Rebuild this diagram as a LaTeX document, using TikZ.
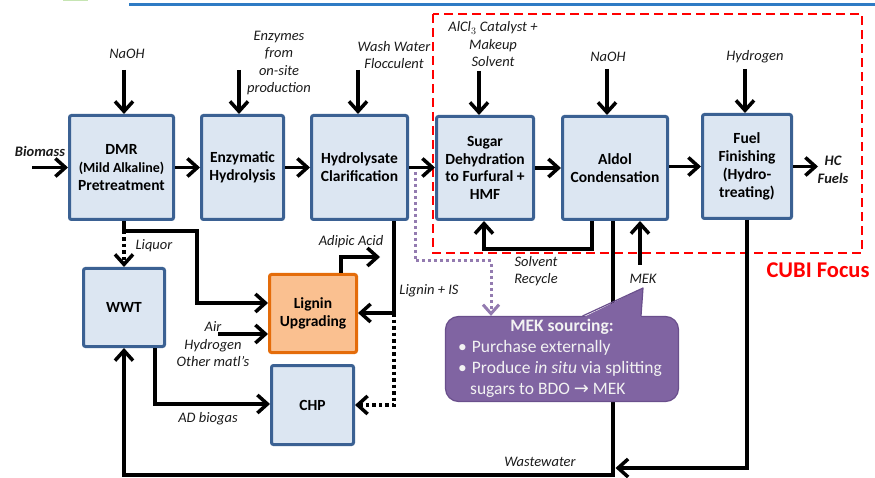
\documentclass[tikz,border=0pt]{standalone}
\usepackage{fontspec}
\setmainfont{Carlito}
\newfontfamily\symfont{DejaVu Sans}
\usetikzlibrary{arrows.meta,calc}

\definecolor{boxfill}{HTML}{DCE6F2}
\definecolor{boxdraw}{HTML}{3B6193}
\definecolor{orgfill}{HTML}{FAC090}
\definecolor{orgdraw}{HTML}{E46C0A}
\definecolor{mekfill}{HTML}{8064A2}
\definecolor{mekdraw}{HTML}{6A4F8C}
\definecolor{mektext}{HTML}{F2F2F2}
\definecolor{cubired}{HTML}{FF0000}
\definecolor{topblue}{HTML}{2E7BC4}
\definecolor{topgreen}{HTML}{C6E5B3}
\definecolor{labtext}{HTML}{1A1A1A}

\tikzset{
  box/.style={draw=boxdraw, fill=boxfill, line width=3pt, rounded corners=2pt,
    align=center, inner sep=1pt, font=\fontsize{15.5}{17.8}\selectfont\bfseries},
  orgbox/.style={box, draw=orgdraw, fill=orgfill},
  lab/.style={align=center, inner sep=0pt, text=labtext,
    font=\fontsize{14.5}{17.6}\selectfont\itshape},
  blab/.style={lab, font=\fontsize{14.5}{18}\selectfont\bfseries\itshape},
  flow/.style={line width=3.5pt, draw=black},
  arr/.style={flow, -{Straight Barb[length=10pt,width=18pt]}},
  dotarr/.style={arr, dash pattern=on 3.5pt off 3pt},
  pdot/.style={line width=3pt, draw=mekfill!85, dash pattern=on 3pt off 3pt,
    -{Straight Barb[length=9pt,width=16pt]}},
  mekt/.style={inner sep=0pt, text=mektext, font=\fontsize{17.5}{21}\selectfont},
}

\begin{document}
\begin{tikzpicture}[x=1pt,y=-1pt]
\useasboundingbox (0,0) rectangle (875,478);

% header rule
\fill[topgreen] (63,0) rectangle (88,1.5);
\draw[topblue, line width=3pt] (129,5) -- (875,5);

% focus area
\draw[cubired, line width=2.5pt, dash pattern=on 9pt off 5pt] (433,14) rectangle (862,253);
\node[text=cubired, inner sep=0pt, font=\fontsize{22.5}{26}\selectfont\bfseries] (cubi) at (818,270) {CUBI Focus};

% process blocks
\node[box, minimum width=104, minimum height=104] (dmr) at (121.5,167.5)
  {DMR\\{\fontsize{14}{17}\selectfont (Mild Alkaline)}\\Pretreatment};
\node[box, minimum width=82, minimum height=104] (enz) at (242.5,167.5) {Enzymatic\\Hydrolysis};
\node[box, minimum width=96, minimum height=104] (hyd) at (359.5,167.5) {Hydrolysate\\Clarification};
\node[box, minimum width=97, minimum height=103] (sug) at (485,168) {Sugar\\Dehydration\\to Furfural +\\HMF};
\node[box, minimum width=105, minimum height=103] (ald) at (615,168) {Aldol\\Condensation};
\node[box, minimum width=89, minimum height=104] (fuel) at (747,166.5) {Fuel\\Finishing\\(Hydro-\\treating)};
\node[box, minimum width=81, minimum height=78] (wwt) at (124,307.5) {WWT};
\node[orgbox, minimum width=87, minimum height=78] (lig) at (313,313.5) {Lignin\\Upgrading};
\node[box, minimum width=82, minimum height=79] (chp) at (312.5,405) {CHP};

% feed labels
\node[blab] (biomass) at (40,151) {Biomass};
\node[lab] (naoha) at (127,54) {NaOH};
\node[lab] (enzymes) at (279,63) {Enzymes\\from\\on-site\\production};
\node[lab] (wash) at (394,55) {Wash Water\\Flocculent};
\node[lab, font=\fontsize{14.5}{17.5}\selectfont\itshape] (alcl) at (493,44.5) {AlCl$_3$ Catalyst +\\Makeup\\Solvent};
\node[lab] (naohb) at (608,57) {NaOH};
\node[lab] (hydrogen) at (755,57) {Hydrogen};
\node[blab] (hc) at (833,170) {HC\\Fuels};

% stream labels
\node[lab, font=\fontsize{14.5}{17}\selectfont\itshape] (solv) at (536,271.5) {Solvent\\Recycle};
\node[lab] (meklab) at (643,279) {MEK};
\node[lab] (wastewater) at (540,462) {Wastewater};
\node[lab] (lignis) at (429,291) {Lignin + IS};
\node[lab] (adipic) at (351,242) {Adipic Acid};
\node[lab] (liquor) at (154,246) {Liquor};
\node[lab, font=\fontsize{14.5}{17.5}\selectfont\itshape] (air) at (213,344.5) {Air\\Hydrogen\\Other matl’s};
\node[lab] (biogas) at (208,419) {AD biogas};

% connector points
\coordinate (ina) at (32,167.5);
\coordinate (tna) at (124,70);
\coordinate (tenz) at (239,70);
\coordinate (twash) at (358,70);
\coordinate (talcl) at (479,71);
\coordinate (tnab) at (607,69);
\coordinate (thyd) at (745,69);
\coordinate (outhc) at (818,166.5);
\coordinate (sr1) at (592,249);
\coordinate (sr2) at (484,249);
\coordinate (ww1) at (613,475);
\coordinate (ww2) at (124,475);
\coordinate (fw) at (747,468);
\coordinate (mk) at (640,265);
\coordinate (li1) at (394,313);
\coordinate (li2) at (394,405);
\coordinate (ad1) at (341,257);
\coordinate (ad2) at (380,257);
\coordinate (lq) at (124,231);
\coordinate (lg1) at (197,231);
\coordinate (lg2) at (197,303);
\coordinate (ain) at (218,334);
\coordinate (bg) at (155,404);
\coordinate (p1) at (415,172);
\coordinate (p2) at (415,261);
\coordinate (p3) at (491,261);

% main train
\draw[arr] (ina) -- (dmr.west);
\draw[arr] (dmr.east) -- (enz.west);
\draw[arr] (enz.east) -- (hyd.west);
\draw[arr] (hyd.east) -- (hyd.east -| sug.west);
\draw[arr] (sug.east |- ald.west) -- (ald.west);
\draw[arr] (ald.east |- fuel.west) -- (fuel.west);
\draw[arr] (fuel.east) -- (outhc);

% feeds
\draw[arr] (tna) -- (tna |- dmr.north);
\draw[arr] (tenz) -- (tenz |- enz.north);
\draw[arr] (twash) -- (twash |- hyd.north);
\draw[arr] (talcl) -- (talcl |- sug.north);
\draw[arr] (tnab) -- (tnab |- ald.north);
\draw[arr] (thyd) -- (thyd |- fuel.north);

% recycles and side streams
\draw[arr] (sr1 |- ald.south) -- (sr1) -- (sr2) -- (sr2 |- sug.south);
\draw[arr] (mk) -- (mk |- ald.south);
\draw[arr] (ww1 |- ald.south) -- (ww1) -- (ww2) -- (wwt.south);
\draw[arr, shorten >=0.5pt] (fuel.south) -- (fw) -- ($(fw -| ww1)+(2,0)$);
\draw[arr] (li1 |- hyd.south) -- (li1) -- (li1 -| lig.east);
\draw[dotarr] (li1) -- (li2) -- (li2 -| chp.east);
\draw[arr] (ad1 |- lig.north) -- (ad1) -- (ad2);
\draw[arr] (lq |- dmr.south) -- (lq) -- (lg1) -- (lg2) -- (lg2 -| lig.west);
\draw[dotarr] (lq) -- (wwt.north);
\draw[arr] (ain) -- (ain -| lig.west);
\draw[arr] (bg |- wwt.south) -- (bg) -- (bg -| chp.west);

% MEK sourcing callout
\node[draw=mekdraw, fill=mekfill, line width=1.2pt, rounded corners=13pt,
  minimum width=233, minimum height=85, inner sep=0pt] (mek) at (562,359) {};
\fill[mekfill] (582,318) -- (643,288) -- (641,318) -- cycle;
\draw[mekdraw, line width=1.2pt, line join=round] (582.5,316) -- (643,288) -- (641,316);
\node[mekt, font=\fontsize{17.5}{21}\selectfont\bfseries] (mekhd) at (562,327) {MEK sourcing:};
\node[mekt, anchor=west] (mekb1) at (458,348) {•\hspace{5pt}Purchase externally};
\node[mekt, anchor=west] (mekb2) at (458,369) {•\hspace{5pt}Produce \textit{in situ} via splitting};
\node[mekt, anchor=west] (mekb3) at (470,390) {sugars to BDO {\symfont\fontsize{18}{21}\selectfont →} MEK};

\draw[pdot] (p1) -- (p2) -- (p3) -- (p3 |- mek.north);
\end{tikzpicture}
\end{document}
